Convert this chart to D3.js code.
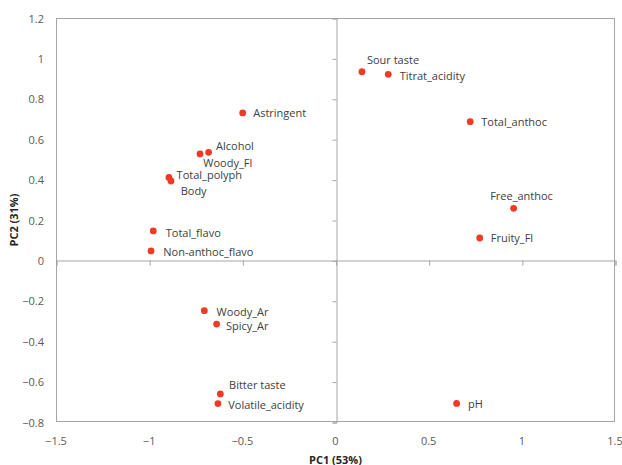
<!DOCTYPE html>
<html>
<head>
<meta charset="utf-8">
<script src="https://cdn.jsdelivr.net/npm/d3@7"></script>
<style>
  html, body { margin: 0; padding: 0; background: #fff; }
  svg { display: block; font-family: "Open Sans", "DejaVu Sans", sans-serif; }
</style>
</head>
<body>
<svg id="chart" width="622" height="465"></svg>
<script>
// Loadings of each variable on the first two principal components
const variables = [
  "Sour taste", "Titrat_acidity", "Total_anthoc", "Free_anthoc", "Fruity_Fl", "pH",
  "Astringent", "Alcohol", "Woody_Fl", "Total_polyph", "Body", "Total_flavo",
  "Non-anthoc_flavo", "Woody_Ar", "Spicy_Ar", "Bitter taste", "Volatile_acidity"
];
const pc1 = [
  0.142, 0.283, 0.723, 0.956, 0.774, 0.650,
  -0.498, -0.681, -0.727, -0.894, -0.883, -0.978,
  -0.990, -0.704, -0.638, -0.618, -0.631
];
const pc2 = [
  0.934, 0.921, 0.687, 0.258, 0.111, -0.708,
  0.730, 0.535, 0.527, 0.411, 0.393, 0.146,
  0.047, -0.249, -0.315, -0.661, -0.709
];
const xTicks = [-1.5, -1, -0.5, 0, 0.5, 1, 1.5];
const yTicks = [-0.8, -0.6, -0.4, -0.2, 0, 0.2, 0.4, 0.6, 0.8, 1, 1.2];
const xTitle = "PC1 (53%)";
const yTitle = "PC2 (31%)";

// Label placement relative to each point (pixels)
const labelOffset = {
  "Sour taste": [5, -12], "Titrat_acidity": [11.5, 0.8], "Total_anthoc": [11, 0.3],
  "Free_anthoc": [-23.5, -12.5], "Fruity_Fl": [11, 0], "pH": [11.5, 0.5],
  "Astringent": [10.5, 0], "Alcohol": [7.5, -7.3], "Woody_Fl": [3.3, 8.7],
  "Total_polyph": [7.7, -3.3], "Body": [9.7, 9], "Total_flavo": [12.5, 1.3],
  "Non-anthoc_flavo": [12.3, 0.7], "Woody_Ar": [12.3, 1], "Spicy_Ar": [9.3, 1.7],
  "Bitter taste": [8.7, -9.7], "Volatile_acidity": [10.3, 0.6]
};

const svg = d3.select("#chart");
const plot = { left: 56, right: 615, top: 18, bottom: 422 };

const x = d3.scaleLinear().domain([-1.5, 1.5]).range([plot.left, plot.right]);
const y = d3.scaleLinear().domain([-0.8, 1.2]).range([plot.bottom, plot.top]);

const gridColor = "#a6a6a6";
const tickColor = "#595959";

// Plot frame
svg.append("rect")
  .attr("x", plot.left + 0.5).attr("y", plot.top + 0.5)
  .attr("width", plot.right - plot.left - 1).attr("height", plot.bottom - plot.top - 1)
  .attr("fill", "none").attr("stroke", gridColor).attr("stroke-width", 1);

// Horizontal axis through y = 0, ticks pointing down
const xAxis = d3.axisBottom(x).tickValues(xTicks).tickSize(5).tickFormat("");
svg.append("g")
  .attr("transform", `translate(0.5,${Math.round(y(0)) + 0.5})`)
  .call(xAxis)
  .call(g => g.select(".domain").attr("stroke", gridColor))
  .call(g => g.selectAll(".tick line").attr("stroke", gridColor));

// Vertical axis through x = 0, ticks pointing left
const yAxis = d3.axisLeft(y).tickValues(yTicks).tickSize(4).tickFormat("");
svg.append("g")
  .attr("transform", `translate(${Math.round(x(0)) + 0.5},0.5)`)
  .call(yAxis)
  .call(g => g.select(".domain").attr("stroke", gridColor))
  .call(g => g.selectAll(".tick line").attr("stroke", gridColor));

// Tick labels sit along the frame edges
svg.append("g").selectAll("text").data(xTicks).join("text")
  .attr("x", d => x(d)).attr("y", 440)
  .attr("text-anchor", "middle").attr("dominant-baseline", "central")
  .attr("font-size", 11).attr("fill", tickColor)
  .text(d => d3.format("")(d).replace("-", "-"));

svg.append("g").selectAll("text").data(yTicks).join("text")
  .attr("x", 44).attr("y", d => y(d))
  .attr("text-anchor", "end").attr("dominant-baseline", "central")
  .attr("font-size", 11).attr("fill", tickColor)
  .text(d => d3.format("")(d));

// Axis titles
svg.append("text")
  .attr("x", x(0)).attr("y", 459)
  .attr("text-anchor", "middle").attr("dominant-baseline", "central")
  .attr("font-size", 11).attr("font-weight", "bold").attr("fill", "#262626")
  .text(xTitle);

svg.append("text")
  .attr("transform", `translate(13,${(plot.top + plot.bottom) / 2}) rotate(-90)`)
  .attr("text-anchor", "middle").attr("dominant-baseline", "central")
  .attr("font-size", 11).attr("font-weight", "bold").attr("fill", "#262626")
  .text(yTitle);

// Points and labels
const data = variables.map((name, i) => ({ name, pc1: pc1[i], pc2: pc2[i] }));

svg.append("g").selectAll("circle").data(data).join("circle")
  .attr("cx", d => x(d.pc1)).attr("cy", d => y(d.pc2))
  .attr("r", 3.4).attr("fill", "#ef3b24");

svg.append("g").selectAll("text").data(data).join("text")
  .attr("x", d => x(d.pc1) + labelOffset[d.name][0])
  .attr("y", d => y(d.pc2) + labelOffset[d.name][1])
  .attr("dominant-baseline", "central")
  .attr("font-size", 11).attr("fill", "#404040")
  .text(d => d.name);
</script>
</body>
</html>
